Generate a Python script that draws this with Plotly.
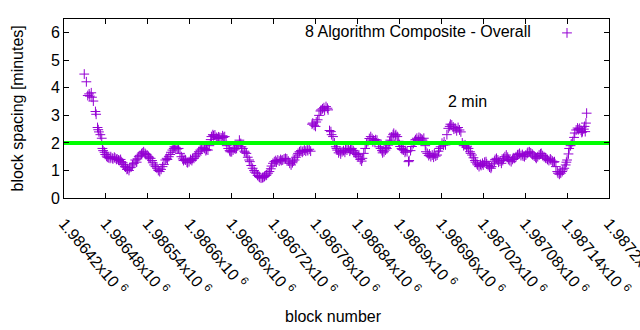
import plotly.graph_objects as go

# ---- data ----
BLOCKS = [
    1986449, 1986452, 1986454, 1986456, 1986457, 1986459, 1986460, 1986462, 1986465, 1986466,
    1986468, 1986469, 1986470, 1986472, 1986474, 1986475, 1986476, 1986478, 1986479,
    1986481, 1986482, 1986484, 1986486, 1986487, 1986489, 1986490, 1986492, 1986493, 1986495,
    1986496, 1986498, 1986499, 1986501, 1986502, 1986504, 1986505, 1986507, 1986508, 1986510,
    1986511, 1986513, 1986514, 1986516,
    1986518, 1986520, 1986522, 1986524, 1986525, 1986527, 1986529, 1986531, 1986532, 1986534,
    1986536, 1986537, 1986539, 1986541, 1986542, 1986544, 1986546, 1986547, 1986549, 1986551,
    1986553, 1986555, 1986557, 1986559, 1986561, 1986563, 1986565, 1986567, 1986568, 1986570,
    1986572, 1986573, 1986575, 1986577, 1986578, 1986580, 1986582, 1986584, 1986586, 1986588,
    1986590, 1986591, 1986593, 1986594, 1986596, 1986597, 1986599, 1986601, 1986603, 1986604,
    1986606, 1986608, 1986610, 1986612, 1986613, 1986615, 1986617, 1986619, 1986621, 1986623,
    1986624, 1986626, 1986628, 1986630, 1986631, 1986633, 1986634, 1986636, 1986638, 1986640,
    1986641, 1986643, 1986645, 1986647, 1986648, 1986650, 1986652, 1986653, 1986655, 1986657,
    1986658, 1986660, 1986662, 1986664, 1986665, 1986667, 1986669, 1986671, 1986673, 1986674,
    1986676, 1986678, 1986679, 1986681, 1986683, 1986685, 1986686, 1986688, 1986690, 1986692,
    1986693, 1986695, 1986697, 1986699, 1986700, 1986702, 1986704, 1986705, 1986707, 1986709,
    1986710, 1986712, 1986714, 1986716, 1986717, 1986719, 1986721, 1986723, 1986724, 1986726,
    1986728, 1986730, 1986731, 1986733, 1986735, 1986737, 1986739, 1986741, 1986743, 1986745,
    1986747, 1986748, 1986750, 1986752, 1986754, 1986755, 1986757, 1986759, 1986761, 1986762,
    1986764, 1986766, 1986768, 1986769, 1986771, 1986773, 1986775, 1986776, 1986778, 1986780,
    1986781, 1986783, 1986785, 1986787, 1986788, 1986790, 1986792, 1986793, 1986795, 1986797,
    1986798, 1986800, 1986802, 1986803, 1986805, 1986807, 1986809, 1986810,
    1986811, 1986813, 1986815, 1986816, 1986818, 1986820, 1986822, 1986823, 1986825, 1986827,
    1986829, 1986830, 1986832, 1986834, 1986835, 1986837, 1986839, 1986841, 1986842, 1986844,
    1986846, 1986847, 1986849, 1986851, 1986853, 1986855, 1986857, 1986859, 1986861, 1986862,
    1986863, 1986865, 1986866, 1986868, 1986870, 1986871, 1986873, 1986875, 1986876, 1986878,
    1986880, 1986881, 1986882, 1986884, 1986886, 1986887, 1986889, 1986891, 1986892, 1986894,
    1986895, 1986897, 1986899, 1986900, 1986901, 1986903, 1986904, 1986906, 1986908, 1986909,
    1986911, 1986913, 1986914, 1986916, 1986918, 1986920, 1986922, 1986923, 1986925, 1986927,
    1986928, 1986930, 1986932, 1986933, 1986935, 1986937, 1986938, 1986940, 1986942, 1986943,
    1986945, 1986947, 1986949, 1986950, 1986952, 1986954, 1986956, 1986957, 1986959, 1986961,
    1986963, 1986964, 1986966, 1986968, 1986970, 1986972, 1986973, 1986975, 1986977, 1986978,
    1986980, 1986982, 1986984, 1986986, 1986988, 1986990, 1986992, 1986994, 1986996, 1986997,
    1986999, 1987001, 1987002, 1987004,
    1987006, 1987008, 1987009, 1987011, 1987012, 1987014, 1987016, 1987017, 1987019, 1987020,
    1987022, 1987024, 1987025, 1987027, 1987029, 1987031, 1987032, 1987034, 1987036, 1987037,
    1987039, 1987041, 1987042, 1987044, 1987046, 1987048, 1987049, 1987051, 1987053, 1987055,
    1987056, 1987058, 1987060, 1987062, 1987063, 1987065, 1987067, 1987069, 1987070, 1987072,
    1987074, 1987076, 1987077, 1987079, 1987081, 1987083, 1987084, 1987086, 1987088, 1987090,
    1987091, 1987093, 1987095, 1987096, 1987098, 1987100, 1987102, 1987103, 1987105, 1987107,
    1987109, 1987110, 1987112, 1987114, 1987116, 1987117, 1987119, 1987121, 1987122, 1987124,
    1987126, 1987127, 1987129, 1987130, 1987131, 1987133, 1987134, 1987136, 1987138, 1987139,
    1987140, 1987142, 1987143, 1987145, 1987146, 1987148, 1987150, 1987151, 1987153, 1987155,
    1987156, 1987158, 1987160, 1987161, 1987162, 1987164, 1987165, 1987166, 1987167, 1987168,
]

SPACING = [
    4.50, 4.22, 3.72, 3.78, 3.70, 3.82, 3.66, 3.52, 3.14, 3.04,
    2.56, 2.48, 2.40, 2.30, 2.17, 1.80, 1.72, 1.66, 1.58,
    1.52, 1.48, 1.46, 1.44, 1.50, 1.45, 1.42, 1.48, 1.45, 1.40,
    1.42, 1.38, 1.36, 1.40, 1.32, 1.28, 1.22, 1.15, 1.12, 1.04,
    1.06, 1.00, 1.10, 1.12,
    1.20, 1.26, 1.38, 1.30, 1.42, 1.50, 1.55, 1.60, 1.64, 1.68,
    1.62, 1.58, 1.56, 1.50, 1.46, 1.44, 1.36, 1.28, 1.20, 1.14,
    1.08, 1.00, 0.96, 1.04, 1.14, 1.22, 1.38, 1.44, 1.40, 1.50,
    1.58, 1.66, 1.74, 1.80, 1.86, 1.84, 1.78, 1.80, 1.62, 1.50,
    1.42, 1.36, 1.40, 1.38, 1.30, 1.28, 1.32, 1.40, 1.36, 1.44,
    1.44, 1.50, 1.56, 1.62, 1.68, 1.74, 1.78, 1.84, 1.80, 1.72,
    1.76, 1.74, 1.90, 2.12, 2.23, 2.30, 2.26, 2.29, 2.20, 2.16,
    2.22, 2.20, 2.18, 2.26, 2.20, 2.23, 2.05, 1.90, 1.80, 1.72,
    1.68, 1.68, 1.74, 1.82, 1.78, 1.80, 1.90, 2.10, 1.98, 1.86,
    1.80, 1.70, 1.66, 1.62, 1.48, 1.38, 1.32, 1.18, 1.08, 1.00,
    0.94, 0.90, 0.82, 0.78, 0.75, 0.72, 0.74, 0.75, 0.78, 0.82,
    0.84, 0.90, 0.96, 1.06, 1.16, 1.26, 1.32, 1.36, 1.30, 1.38,
    1.34, 1.40, 1.36, 1.38, 1.42, 1.44, 1.42, 1.34, 1.26, 1.20,
    1.28, 1.34, 1.38, 1.48, 1.56, 1.62, 1.68, 1.72, 1.66, 1.70,
    1.74, 1.70, 1.76, 1.72, 1.77, 1.70, 2.68, 2.72, 2.64, 2.60,
    2.76, 2.84, 3.00, 3.16, 3.20, 3.24, 3.28, 3.18, 3.32, 3.26,
    3.20, 2.45, 2.41, 2.30, 2.23, 2.00, 1.86, 1.80,
    1.74, 1.64, 1.70, 1.60, 1.68, 1.72, 1.66, 1.78, 1.74, 1.80,
    1.70, 1.76, 1.80, 1.72, 1.66, 1.62, 1.58, 1.50, 1.56, 1.40,
    1.34, 1.44, 1.62, 1.80, 1.96, 2.05, 2.16, 2.23, 2.16, 2.04,
    2.10, 2.06, 2.12, 2.10, 1.98, 1.86, 1.80, 1.72, 1.64, 1.68,
    1.74, 1.84, 1.80, 1.92, 2.04, 2.10, 2.22, 2.30, 2.35, 2.26,
    2.30, 2.23, 2.06, 1.94, 1.87, 1.80, 1.76, 1.74, 1.66, 1.72,
    1.68, 1.32, 1.36, 1.72, 1.87, 1.98, 2.06, 2.12, 2.17, 2.10,
    2.20, 2.17, 2.14, 2.10, 2.17, 1.90, 1.68, 1.62, 1.54, 1.60,
    1.50, 1.56, 1.48, 1.60, 1.52, 1.56, 1.70, 1.80, 1.86, 1.99,
    1.92, 2.04, 1.93, 2.30, 2.53, 2.60, 2.68, 2.65, 2.58, 2.50,
    2.53, 2.44, 2.56, 2.47, 2.40, 2.00, 1.90, 1.93, 1.84, 1.88,
    1.80, 1.68, 1.62, 1.56,
    1.46, 1.36, 1.30, 1.24, 1.20, 1.14, 1.22, 1.18, 1.26, 1.20,
    1.30, 1.32, 1.24, 1.18, 1.12, 1.08, 1.14, 1.24, 1.34, 1.40,
    1.44, 1.38, 1.30, 1.34, 1.26, 1.36, 1.44, 1.50, 1.56, 1.48,
    1.40, 1.36, 1.32, 1.40, 1.46, 1.44, 1.50, 1.56, 1.58, 1.62,
    1.54, 1.58, 1.52, 1.50, 1.56, 1.62, 1.66, 1.68, 1.64, 1.60,
    1.56, 1.52, 1.48, 1.44, 1.50, 1.56, 1.60, 1.62, 1.54, 1.50,
    1.46, 1.44, 1.40, 1.36, 1.42, 1.38, 1.34, 1.30, 1.32, 1.14,
    0.96, 0.90, 0.86, 0.94, 0.90, 0.96, 1.02, 1.08, 1.20, 1.30,
    1.38, 1.60, 1.80, 1.90, 1.96, 2.05, 2.20, 2.36, 2.47, 2.54,
    2.48, 2.53, 2.46, 2.38, 2.41, 2.50, 2.60, 2.41, 2.72, 3.08,
]
assert len(BLOCKS) == len(SPACING)

TARGET_MINUTES = 2.0
TARGET_LABEL = "2 min"
TARGET_LABEL_POS = (1986967, 3.5)
SERIES_NAME = "8 Algorithm Composite - Overall"

X_RANGE = [1986420, 1987200]
Y_RANGE = [0, 6.5]
X_TICK_VALUES = [1986420, 1986480, 1986540, 1986600, 1986660, 1986720, 1986780,
                 1986840, 1986900, 1986960, 1987020, 1987080, 1987140, 1987200]
X_TICK_MANTISSAS = ["1.98642", "1.98648", "1.98654", "1.9866", "1.98666", "1.98672", "1.98678",
                    "1.98684", "1.9869", "1.98696", "1.98702", "1.98708", "1.98714", "1.9872"]
X_TICK_EXPONENT = "6"
Y_TICK_VALUES = [0, 1, 2, 3, 4, 5, 6]

PURPLE = "#9400d3"
GREEN = "#00ff00"
FONT = "Liberation Sans, Arial, sans-serif"

fig = go.Figure()
fig.add_trace(go.Scatter(
    x=BLOCKS, y=SPACING, mode="markers", name=" ",
    marker=dict(symbol="cross-thin", size=7, color=PURPLE, line=dict(width=1, color=PURPLE)),
    showlegend=True, hoverinfo="x+y",
))
fig.add_trace(go.Scatter(
    x=X_RANGE, y=[TARGET_MINUTES, TARGET_MINUTES], mode="lines", name=TARGET_LABEL,
    line=dict(color=GREEN, width=4), showlegend=False, hoverinfo="skip",
))

axis_common = dict(
    showline=True, linecolor="black", linewidth=1, mirror="ticks",
    ticks="inside", ticklen=5, tickcolor="black", tickwidth=1,
    showgrid=False, zeroline=False,
    tickfont=dict(family=FONT, size=16, color="black"),
)
fig.update_xaxes(
    range=X_RANGE, tickmode="array", tickvals=X_TICK_VALUES,
    ticktext=[m + "x10 <sup>" + X_TICK_EXPONENT + "</sup>" for m in X_TICK_MANTISSAS],
    tickangle=50, ticklabelstandoff=9, ticklabeloverflow="allow", automargin=False,
    **axis_common,
)
fig.update_yaxes(
    range=Y_RANGE, tickmode="array", tickvals=Y_TICK_VALUES,
    ticktext=[str(v) for v in Y_TICK_VALUES], automargin=False,
    **axis_common,
)

W, H = 640, 330
ML, MR, MT, MB = 64, 31, 19, 132
PW, PH = W - ML - MR, H - MT - MB

fig.update_layout(
    width=W, height=H,
    margin=dict(l=ML, r=MR, t=MT, b=MB, pad=0),
    paper_bgcolor="white", plot_bgcolor="white",
    font=dict(family=FONT, size=16, color="black"),
    legend=dict(x=(547 - ML) / PW, y=(198 - 33) / PH, xanchor="left", yanchor="middle",
                bgcolor="rgba(0,0,0,0)", font=dict(size=16), borderwidth=0),
    annotations=[
        dict(text=SERIES_NAME, xref="paper", yref="paper", x=(533 - ML) / PW, y=(198 - 32) / PH,
             xanchor="right", yanchor="middle", showarrow=False, font=dict(size=16)),
        dict(text=TARGET_LABEL, xref="x", yref="y", x=TARGET_LABEL_POS[0], y=TARGET_LABEL_POS[1],
             xanchor="left", yanchor="middle", showarrow=False, font=dict(size=16)),
        dict(text="block spacing [minutes]", xref="paper", yref="paper", x=(17 - ML) / PW, y=0.5,
             xanchor="center", yanchor="middle", textangle=-90, showarrow=False, font=dict(size=16)),
        dict(text="block number", xref="paper", yref="paper", x=(333 - ML) / PW, y=(198 - 316) / PH,
             xanchor="center", yanchor="middle", showarrow=False, font=dict(size=16)),
    ],
)

fig.write_html("out.html")
